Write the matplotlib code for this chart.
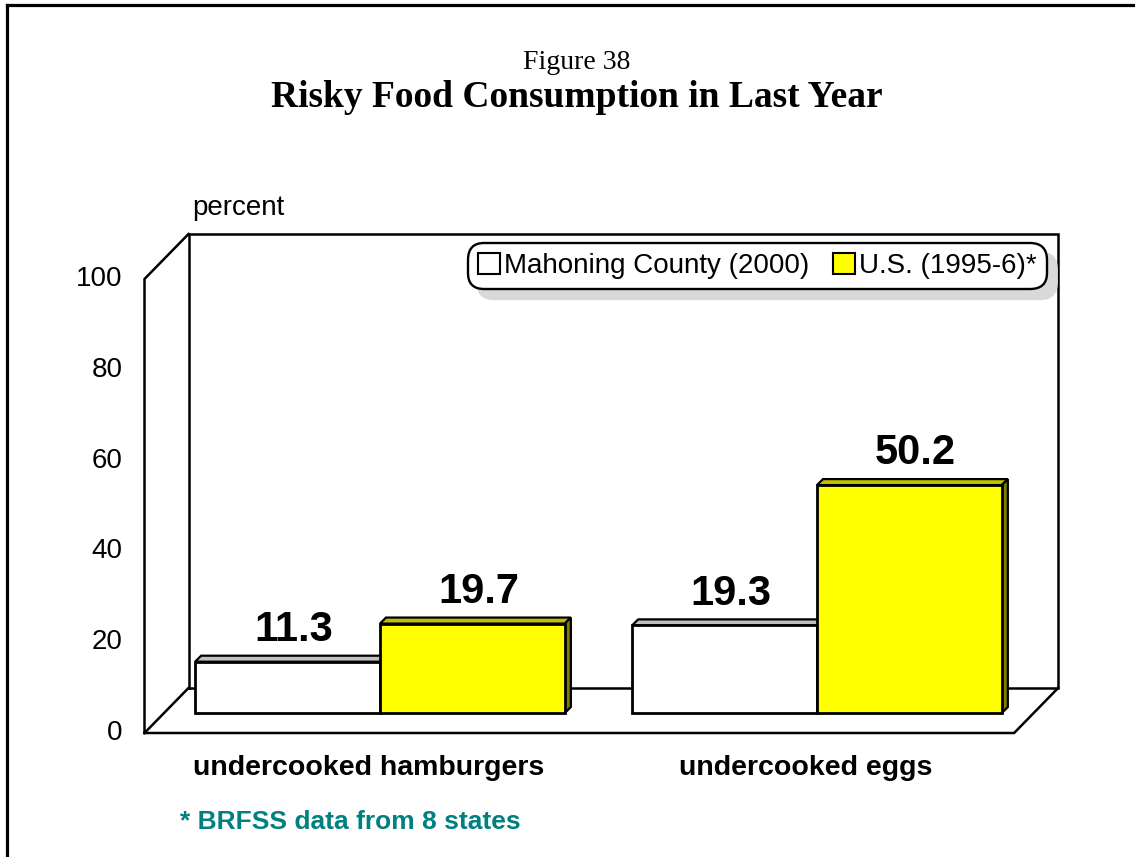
import matplotlib
matplotlib.use("Agg")
import matplotlib.pyplot as plt
from matplotlib.patches import Patch
from matplotlib.lines import Line2D

# data
categories = ['undercooked hamburgers', 'undercooked eggs']
series_names = ['Mahoning County (2000)', 'U.S. (1995-6)*']
mahoning = [11.3, 19.3]
us = [19.7, 50.2]
yticks = [0, 20, 40, 60, 80, 100]

colors = ['#ffffff', '#ffff00']
top_colors = ['#c0c0c0', '#c0c000']
side_colors = ['#808080', '#808000']

plt.rcParams['font.family'] = ['Liberation Sans', 'DejaVu Sans']

W, H = 1135, 857
fig = plt.figure(figsize=(W / 100, H / 100), dpi=100)

# axes = bar plane of the pseudo 3d box (pixel layout)
xmin, xmax = -0.5, 1.49
sx = 437.0          # px per x unit
ax_w, ax_h = sx * (xmax - xmin), 454
ax = fig.add_axes([161.5 / W, (H - 713) / H, ax_w / W, ax_h / H])
ax.set_xlim(xmin, xmax)
ax.set_ylim(0, 100)
ax.axis('off')

sy = ax_h / 100.0   # px per percent

# depth offsets (px) of front and back planes relative to the bar plane
fdx, fdy = -17 / sx, -20 / sy
bdx, bdy = 27 / sx, 25 / sy
# depth of bars themselves
ddx, ddy = 6 / sx, 6 / sy

def F(x, v):
    return x + fdx, v + fdy

def B(x, v):
    return x + bdx, v + bdy

def line(pts, **kw):
    xs = [p[0] for p in pts]
    ys = [p[1] for p in pts]
    ax.plot(xs, ys, color='black', lw=1.8, clip_on=False, zorder=1,
            solid_joinstyle='miter', **kw)

# walls and floor
line([B(xmin, 0), B(xmin, 100), B(xmax, 100), B(xmax, 0), B(xmin, 0)])
line([F(xmin, 0), F(xmin, 100), B(xmin, 100)])
line([F(xmin, 0), B(xmin, 0)])
line([F(xmin, 0), F(xmax, 0), B(xmax, 0)])

# bars
width = 0.423
z = 3
for i, cat in enumerate(categories):
    for j, vals in enumerate([mahoning, us]):
        h = vals[i]
        x0 = i + (j - 1) * width
        x1 = x0 + width
        ax.fill([x0, x1, x1 + ddx, x0 + ddx], [h, h, h + ddy, h + ddy],
                facecolor=top_colors[j], edgecolor='black', lw=1.6,
                zorder=z, clip_on=False)
        ax.fill([x1, x1 + ddx, x1 + ddx, x1], [0, ddy, h + ddy, h],
                facecolor=side_colors[j], edgecolor='black', lw=1.6,
                zorder=z, clip_on=False)
        ax.bar(x0, h, width=width, align='edge', color=colors[j],
               edgecolor='black', lw=2.0, zorder=z + 0.5, clip_on=False)
        ax.annotate(f'{h:.1f}', xy=((x0 + x1) / 2, h), xytext=(4.5, 15),
                    textcoords='offset points', ha='center', va='baseline',
                    fontsize=30, fontweight='bold', zorder=10)
        z += 1

# y tick labels on the front edge
for t in yticks:
    ax.annotate(str(t), xy=F(xmin, t), xytext=(-16, 0),
                textcoords='offset points', ha='right', va='center',
                fontsize=20, annotation_clip=False)

ax.annotate('percent', xy=B(xmin, 100), xytext=(3, 14),
            textcoords='offset points', ha='left', va='baseline',
            fontsize=20, annotation_clip=False)

# category labels
for i, cat in enumerate(categories):
    ax.annotate(cat, xy=F(i, 0), xytext=(4, -30),
                textcoords='offset points', ha='center', va='baseline',
                fontsize=20.5, fontweight='bold', annotation_clip=False)

# legend
handles = [Patch(facecolor=c, edgecolor='black', lw=1.5) for c in colors]
leg = fig.legend(handles, series_names, loc='upper right',
                 bbox_to_anchor=(1047 / W, 1 - 243 / H),
                 bbox_transform=fig.transFigure, ncol=2, fontsize=20,
                 handlelength=0.8, handleheight=0.8, handletextpad=0.15,
                 columnspacing=0.85, borderpad=0.36, borderaxespad=0,
                 fancybox=True, framealpha=1, edgecolor='black',
                 shadow={'ox': 7, 'oy': -7, 'color': '#d9d9d9', 'alpha': 1})
leg.get_frame().set_linewidth(1.7)
leg.get_frame().set_boxstyle('round,pad=0,rounding_size=0.6')

# titles
fig.text(577 / W, 1 - 69 / H, 'Figure 38', ha='center', va='baseline',
         fontsize=20, family=['Liberation Serif', 'DejaVu Serif'])
fig.text(577 / W, 1 - 107 / H, 'Risky Food Consumption in Last Year',
         ha='center', va='baseline', fontsize=27, fontweight='bold',
         family=['Liberation Serif', 'DejaVu Serif'])

fig.text(180 / W, 1 - 822 / H, '* BRFSS data from 8 states', ha='left',
         va='center', fontsize=19, fontweight='bold', color='#008080')

# outer frame (only left and top edges fall inside the picture)
fig.add_artist(Line2D([7 / W, 7 / W], [0, 1 - 5 / H], color='black', lw=2.3,
                      transform=fig.transFigure))
fig.add_artist(Line2D([7 / W, 1], [1 - 5 / H, 1 - 5 / H], color='black', lw=2.3,
                      transform=fig.transFigure))

fig.savefig('out.png', dpi=100)
